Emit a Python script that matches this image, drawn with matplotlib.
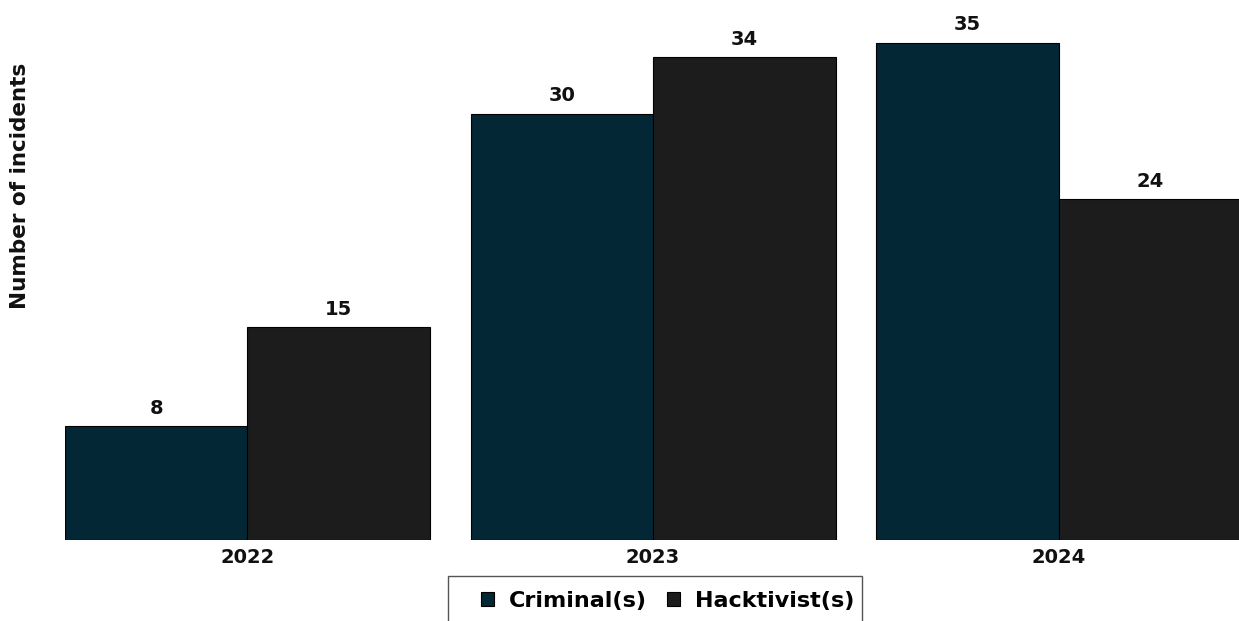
import matplotlib
matplotlib.use("Agg")
import matplotlib.pyplot as plt
from matplotlib.patches import Rectangle
import numpy as np

years = ["2022", "2023", "2024"]
criminal = [8, 30, 35]
hacktivist = [15, 34, 24]
series_names = ["Criminal(s)", "Hacktivist(s)"]
colors = ["#032735", "#1c1c1c"]

plt.rcParams['font.family'] = ['DejaVu Sans']

W, H = 1239, 621
fig = plt.figure(figsize=(W / 100, H / 100), dpi=100)
ax = fig.add_axes([65 / W, (H - 540) / H, 1 - 65 / W, 540 / H])

x = np.arange(len(years))
bw = 0.45
b1 = ax.bar(x - bw / 2, criminal, bw, color=colors[0], edgecolor="black", linewidth=0.8, label=series_names[0])
b2 = ax.bar(x + bw / 2, hacktivist, bw, color=colors[1], edgecolor="black", linewidth=0.8, label=series_names[1])

for bars in (b1, b2):
    for r in bars:
        ax.annotate(f"{int(r.get_height())}", (r.get_x() + r.get_width() / 2, r.get_height()),
                    xytext=(0, 6), textcoords="offset points", ha="center", va="bottom",
                    fontsize=14, fontweight="bold", color="#111111")

ax.set_xlim(-0.45, 2.445)
ax.set_ylim(0, 38)
ax.set_xticks(x)
ax.set_xticklabels(years, fontsize=14, fontweight="bold", color="#111111")
ax.tick_params(axis="x", length=0, pad=6)
ax.set_yticks([])
for s in ax.spines.values():
    s.set_visible(False)

fig.text(20 / W, 1 - 186 / H, "Number of incidents", rotation=90, ha="center", va="center",
         fontsize=15.5, fontweight="bold", color="#111111")

# legend frame
fig.patches.append(Rectangle((448 / W, 0 - 10 / H), (862 - 448) / W, (H - 576 + 10) / H,
                             transform=fig.transFigure, facecolor="white", edgecolor="#555555",
                             linewidth=1.0, zorder=0))

leg = fig.legend(handles=[b1, b2], labels=series_names, loc="center left",
                 bbox_to_anchor=(481 / W, 1 - 601 / H), ncol=2, frameon=False,
                 prop={"weight": "bold", "size": 16}, handlelength=0.6, handleheight=0.6,
                 columnspacing=0.9, handletextpad=0.65, borderpad=0, borderaxespad=0)

fig.savefig("out.png", dpi=100)
